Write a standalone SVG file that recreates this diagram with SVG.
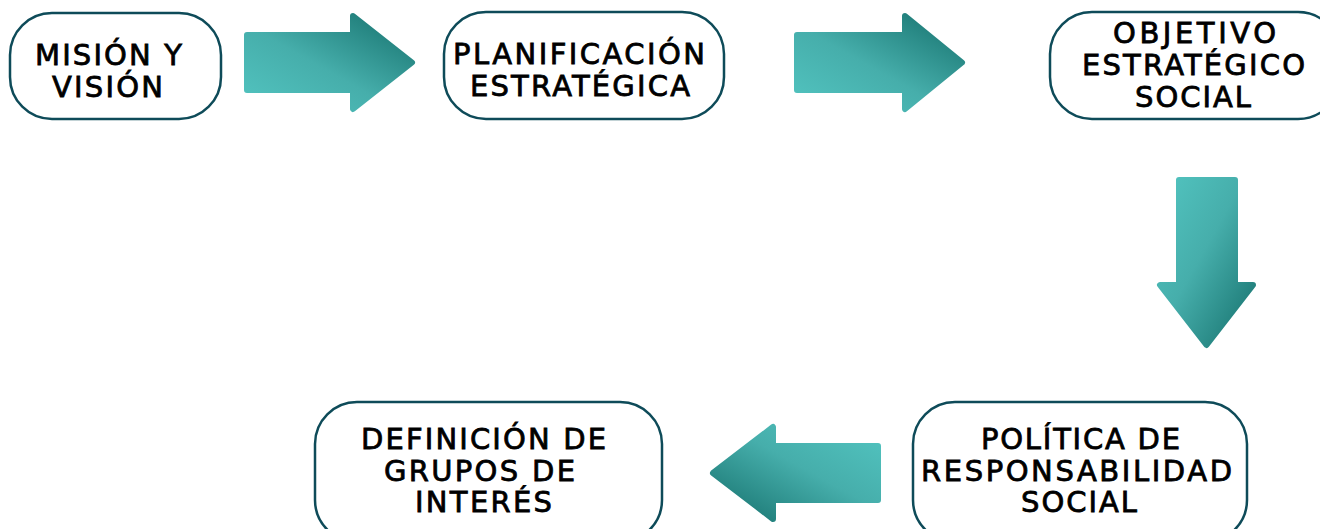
<svg xmlns="http://www.w3.org/2000/svg" width="1320" height="529" viewBox="0 0 1320 529">
<defs>
<linearGradient id="gR" x1="0" y1="1" x2="1" y2="0">
<stop offset="0" stop-color="#52c4c0"/><stop offset="0.45" stop-color="#46aeab"/><stop offset="1" stop-color="#15706c"/>
</linearGradient>
<linearGradient id="gD" x1="0" y1="0" x2="1" y2="1">
<stop offset="0" stop-color="#52c4c0"/><stop offset="0.45" stop-color="#46aeab"/><stop offset="1" stop-color="#15706c"/>
</linearGradient>
<linearGradient id="gL" x1="1" y1="0" x2="0" y2="1">
<stop offset="0" stop-color="#52c4c0"/><stop offset="0.45" stop-color="#46aeab"/><stop offset="1" stop-color="#15706c"/>
</linearGradient>
</defs>
<style>
.box{fill:#ffffff;stroke:#0e4b59;stroke-width:2.5}
.t{font-family:"DejaVu Sans","Noto Sans",sans-serif;font-size:29px;font-weight:400;fill:#000;text-anchor:middle;stroke:#000;stroke-width:0.8}
.arr{stroke-linejoin:round;stroke-width:6}
</style>
<g id="connectors">
<path class="arr" fill="url(#gR)" stroke="url(#gR)" d="M247,35 L353,35 L353,16 L412,62.5 L353,109 L353,90 L247,90 Z"/>
<path class="arr" fill="url(#gR)" stroke="url(#gR)" d="M797,35 L905,35 L905,16 L962,62.5 L905,109 L905,90 L797,90 Z"/>
<path class="arr" fill="url(#gD)" stroke="url(#gD)" d="M1179,180 L1235,180 L1235,285 L1253,285 L1206.5,345 L1160,285 L1179,285 Z"/>
<path class="arr" fill="url(#gL)" stroke="url(#gL)" d="M878,446 L878,500 L773,500 L773,519 L713,473 L773,427 L773,446 Z"/>
</g>
<g id="n1">
<rect class="box" x="10" y="13" width="211" height="106" rx="42"/>
<text class="t" x="108.5" y="65" textLength="147" lengthAdjust="spacing">MISIÓN Y</text>
<text class="t" x="107.5" y="97" textLength="111" lengthAdjust="spacing">VISIÓN</text>
</g>
<g id="n2">
<rect class="box" x="444" y="12" width="280" height="107" rx="42"/>
<text class="t" x="579" y="64" textLength="252" lengthAdjust="spacing">PLANIFICACIÓN</text>
<text class="t" x="580" y="96" textLength="220" lengthAdjust="spacing">ESTRATÉGICA</text>
</g>
<g id="n3">
<rect class="box" x="1050" y="12" width="290" height="107" rx="42"/>
<text class="t" x="1194.5" y="43" textLength="163" lengthAdjust="spacing">OBJETIVO</text>
<text class="t" x="1193.5" y="75" textLength="223" lengthAdjust="spacing">ESTRATÉGICO</text>
<text class="t" x="1193" y="107" textLength="116" lengthAdjust="spacing">SOCIAL</text>
</g>
<g id="n4">
<rect class="box" x="913" y="402" width="334" height="140" rx="42"/>
<text class="t" x="1080.5" y="449" textLength="199" lengthAdjust="spacing">POLÍTICA DE</text>
<text class="t" x="1076.5" y="481" textLength="311" lengthAdjust="spacing">RESPONSABILIDAD</text>
<text class="t" x="1079" y="512" textLength="116" lengthAdjust="spacing">SOCIAL</text>
</g>
<g id="n5">
<rect class="box" x="315" y="402" width="347" height="140" rx="42"/>
<text class="t" x="483.5" y="449" textLength="245" lengthAdjust="spacing">DEFINICIÓN DE</text>
<text class="t" x="479.5" y="481" textLength="191" lengthAdjust="spacing">GRUPOS DE</text>
<text class="t" x="483.5" y="512" textLength="137" lengthAdjust="spacing">INTERÉS</text>
</g>
</svg>
